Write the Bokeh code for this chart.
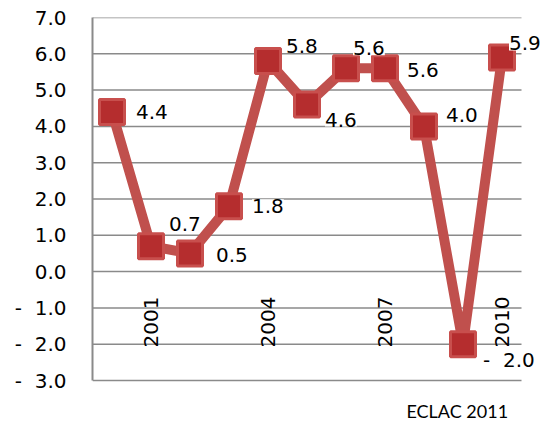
from bokeh.plotting import figure
from bokeh.models import ColumnDataSource, Range1d, FixedTicker, LabelSet, Label
from bokeh.core.properties import value
from bokeh.embed import file_html
from bokeh.resources import INLINE
import math

# ---- data ----
years = [2000, 2001, 2002, 2003, 2004, 2005, 2006, 2007, 2008, 2009, 2010]
growth = [4.4, 0.7, 0.5, 1.8, 5.8, 4.6, 5.6, 5.6, 4.0, -2.0, 5.9]
shown_years = ["2001", "2004", "2007", "2010"]
y_ticks = [-3, -2, -1, 0, 1, 2, 3, 4, 5, 6, 7]
source_note = "ECLAC 2011"

NB = "\u00a0"

def fmt(v):
    if v < 0:
        return "-" + NB + NB + f"{abs(v):.1f}"
    return f"{v:.1f}"

# ---- style (label placement offsets in px) ----
lbl_dx = [24, 18, 26, 23, 18, 18, 7, 22, 22, 20, 7]
lbl_dy = [0, 22, -2, 0, 15, -15, 20, -2, 11, -16, 14]

n = len(years)
xs = [i + 0.5 for i in range(n)]
src = ColumnDataSource(dict(x=xs, y=growth, txt=[fmt(v) for v in growth],
                            dx=lbl_dx, dy=lbl_dy))

# frame: category band 0..n spans 429 px, value band spans 363 px
px_per_x = 429 / n
px_per_y = 363 / (y_ticks[-1] - y_ticks[0])
x_end = n + 20 / px_per_x
y_start = y_ticks[0] - 40 / px_per_y

p = figure(width=543, height=420, output_backend="svg", toolbar_location=None,
           x_range=Range1d(0, x_end), y_range=Range1d(y_start, y_ticks[-1]),
           min_border_left=92, min_border_right=2, min_border_top=17,
           min_border_bottom=0)
p.outline_line_color = None
p.background_fill_color = "white"
p.border_fill_color = "white"

p.xaxis.visible = False
p.xgrid.visible = False
p.ygrid.visible = False

ya = p.yaxis[0]
ya.ticker = FixedTicker(ticks=y_ticks)
ya.bounds = (y_ticks[0], y_ticks[-1])
ya.major_label_overrides = {t: fmt(float(t)) for t in y_ticks}
ya.major_tick_line_color = None
ya.minor_tick_line_color = None
ya.major_tick_out = 0
ya.major_tick_in = 0
ya.major_label_standoff = 26
ya.axis_line_color = "#8a8a8a"
ya.axis_line_width = 2
ya.major_label_text_font = "DejaVu Sans"
ya.major_label_text_font_size = "20px"
ya.major_label_text_color = "black"

# horizontal gridlines across the category band only
p.segment(x0=[0] * len(y_ticks), x1=[n] * len(y_ticks), y0=y_ticks, y1=y_ticks,
          line_color="#8a8a8a", line_width=1.5)

# line and markers
p.line("x", "y", source=src, line_color="#c0504d", line_width=10, line_join="round")
p.scatter("x", "y", source=src, marker="square", size=25,
          fill_color="#b52d2e", line_color="#c84f4d", line_width=3)

# data labels
labels = LabelSet(x="x", y="y", text="txt", source=src, x_offset="dx", y_offset="dy",
                  text_font=value("DejaVu Sans"), text_font_size="20px",
                  text_color="black", text_align="left", text_baseline="middle",
                  background_fill_color="white")
p.add_layout(labels)

# category labels on the zero line
yl_x = [xs[years.index(int(s))] for s in shown_years]
ysrc = ColumnDataSource(dict(x=yl_x, y=[0] * len(yl_x), t=shown_years))
p.text("x", "y", text="t", source=ysrc, angle=math.pi / 2, y_offset=25,
       text_align="right", text_baseline="middle",
       text_font=value("DejaVu Sans"), text_font_size="20px", text_color="black")

note = Label(x=8.05, y=y_ticks[0] - 30 / px_per_y, text=source_note, text_align="left",
             text_baseline="middle", text_font="Lato",
             text_font_size="18px", text_color="black")
p.add_layout(note)

open("out.html", "w").write(file_html(p, INLINE))
